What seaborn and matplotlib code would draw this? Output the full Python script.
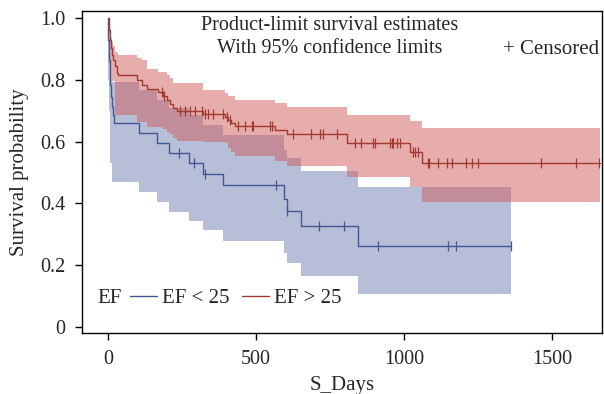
import numpy as np
import pandas as pd
import matplotlib
matplotlib.use("Agg")
import matplotlib.pyplot as plt
import seaborn as sns
from matplotlib.lines import Line2D

# Kaplan-Meier steps, group EF < 25
low_t = [0, 1, 3, 5, 7, 10, 14, 17, 20, 105, 166, 206, 274, 321, 389, 595, 605, 652, 845]
low_s = [1.0, 0.929, 0.864, 0.816, 0.783, 0.744, 0.712, 0.686, 0.660, 0.627, 0.595,
         0.563, 0.531, 0.495, 0.460, 0.414, 0.375, 0.327, 0.262]
low_lcl = [1.0, 0.80, 0.70, 0.62, 0.531, 0.531, 0.469, 0.469, 0.469, 0.437, 0.405,
           0.372, 0.343, 0.314, 0.278, 0.239, 0.207, 0.165, 0.107]
low_ucl = [1.0, 0.99, 0.93, 0.87, 0.80, 0.80, 0.793, 0.793, 0.793, 0.767, 0.735,
           0.709, 0.686, 0.654, 0.621, 0.573, 0.547, 0.505, 0.453]
low_end = 1361
low_cens = [240, 291, 328, 568, 605, 713, 797, 912, 1149, 1176, 1361]

# group EF > 25
high_t = [0, 3, 7, 10, 14, 17, 24, 30, 34, 98, 115, 132, 169, 186, 199, 209, 220, 233,
          321, 395, 405, 416, 429, 564, 605, 807, 1020, 1061]
high_s = [1.0, 0.961, 0.929, 0.903, 0.880, 0.864, 0.845, 0.822, 0.816, 0.799, 0.783,
          0.770, 0.761, 0.748, 0.735, 0.722, 0.709, 0.699, 0.689, 0.680, 0.670, 0.660,
          0.650, 0.638, 0.625, 0.595, 0.566, 0.531]
high_lcl = [1.0, 0.85, 0.82, 0.80, 0.796, 0.796, 0.686, 0.686, 0.686, 0.663, 0.663,
            0.647, 0.647, 0.640, 0.631, 0.625, 0.612, 0.602, 0.599, 0.595, 0.579, 0.566,
            0.553, 0.537, 0.521, 0.485, 0.453, 0.405]
high_ucl = [1.0, 0.977, 0.955, 0.935, 0.922, 0.909, 0.890, 0.887, 0.880, 0.871, 0.864,
            0.835, 0.825, 0.825, 0.816, 0.806, 0.790, 0.790, 0.767, 0.757, 0.748, 0.748,
            0.735, 0.725, 0.712, 0.686, 0.667, 0.644]
high_end = 1662
high_cens = [182, 189, 243, 260, 277, 294, 318, 328, 338, 355, 389, 402, 412, 439, 463,
             486, 490, 547, 554, 625, 686, 716, 726, 774, 834, 855, 895, 902, 953, 959,
             963, 976, 986, 1030, 1037, 1047, 1081, 1084, 1115, 1145, 1162, 1209, 1230,
             1250, 1463, 1581, 1659]

groups = ["EF < 25", "EF > 25"]
line_colors = ["#445694", "#A23A2E"]
band_colors = ["#6F7EB3", "#D05B5B"]

sns.set_style("ticks")
plt.rcParams["font.family"] = ["Liberation Serif", "DejaVu Serif"]

fig = plt.figure(figsize=(6.04, 3.94), dpi=100)
ax = fig.add_axes([0.1358, 0.155, 0.861, 0.817])

data = [(low_t, low_s, low_lcl, low_ucl, low_end, low_cens),
        (high_t, high_s, high_lcl, high_ucl, high_end, high_cens)]

# bands first (blue under red)
for (t, s, lcl, ucl, end, cens), bc in zip(data, band_colors):
    tt = np.append(t, end)
    ax.fill_between(tt, np.append(lcl, lcl[-1]), np.append(ucl, ucl[-1]),
                    step="post", color=bc, alpha=0.5, linewidth=0)

for (t, s, lcl, ucl, end, cens), g, lc in zip(data, groups, line_colors):
    df = pd.DataFrame({"t": np.append(t, end), "s": np.append(s, s[-1])})
    sns.lineplot(data=df, x="t", y="s", ax=ax, color=lc, lw=1.0,
                 drawstyle="steps-post", estimator=None, sort=False)
    idx = np.searchsorted(t, cens, side="right") - 1
    cy = np.asarray(s)[idx]
    ax.plot(cens, cy, ls="none", marker="|", ms=7, mew=0.9, color=lc)

ax.set_xlim(-88, 1669)
ax.set_ylim(-0.019, 1.023)
ax.set_xticks([0, 500, 1000, 1500])
ax.set_yticks([0, 0.2, 0.4, 0.6, 0.8, 1.0])
ax.set_yticklabels(["0", "0.2", "0.4", "0.6", "0.8", "1.0"])
ax.tick_params(labelsize=14.5, length=5, width=1, color="black", pad=7)
ax.set_xlabel("S_Days", fontsize=15, labelpad=5)
ax.set_ylabel("Survival probability", fontsize=15, labelpad=8)
for sp in ax.spines.values():
    sp.set_visible(True)
    sp.set_linewidth(1.0)
    sp.set_color("black")

ax.text(0.477, 0.985, "Product-limit survival estimates\nWith 95% confidence limits",
        transform=ax.transAxes, ha="center", va="top", fontsize=14.5, linespacing=1.3)
ax.text(0.995, 0.88, "+ Censored", transform=ax.transAxes, ha="right", va="center",
        fontsize=15)

handles = [Line2D([], [], color=c, lw=1.0) for c in line_colors]
ax.text(0.029, 0.108, "EF", transform=ax.transAxes, ha="left", va="center", fontsize=15)
ax.legend(handles, groups, loc="center left", bbox_to_anchor=(0.092, 0.108), ncol=2,
          frameon=False, fontsize=15, handlelength=1.3, handletextpad=0.25,
          columnspacing=0.6, borderpad=0, borderaxespad=0)

fig.savefig("out.png", dpi=100)
